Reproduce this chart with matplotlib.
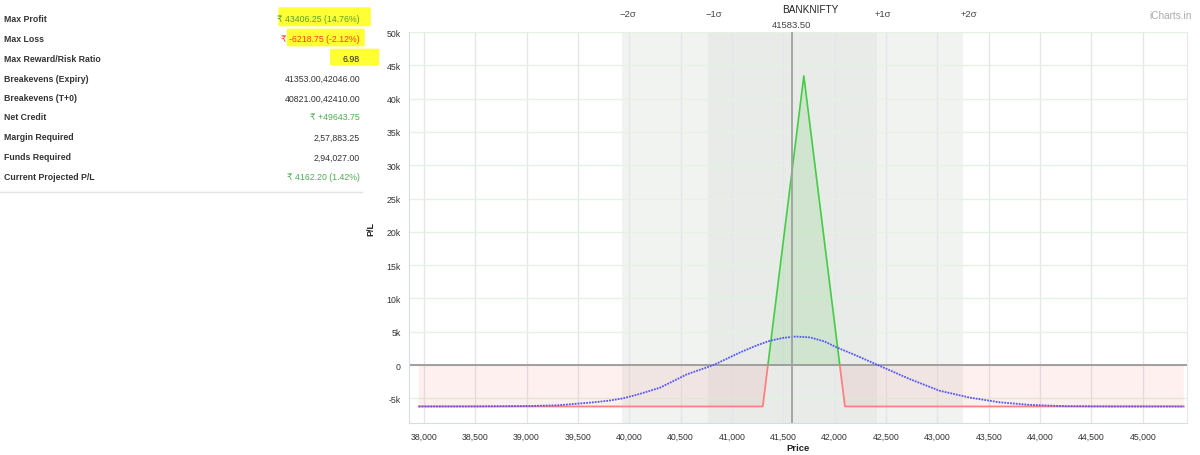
import numpy as np
import matplotlib
matplotlib.use("Agg")
import matplotlib.pyplot as plt
from matplotlib.patches import Rectangle, FancyBboxPatch
import matplotlib.transforms as mtransforms

plt.rcParams['font.family'] = ['Liberation Sans', 'DejaVu Sans']

# summary table on the left
row_labels = ["Max Profit", "Max Loss", "Max Reward/Risk Ratio", "Breakevens (Expiry)",
              "Breakevens (T+0)", "Net Credit", "Margin Required", "Funds Required",
              "Current Projected P/L"]
row_values = ["₹ 43406.25 (14.76%)", "₹ -6218.75 (-2.12%)", "6.98", "41353.00,42046.00",
              "40821.00,42410.00", "₹ +49643.75", "2,57,883.25", "2,94,027.00",
              "₹ 4162.20 (1.42%)"]
row_colors = ["#5aa02c", "#ff3b1f", "#222222", "#333333", "#333333",
              "#4caf50", "#333333", "#333333", "#4caf50"]

# payoff at expiry
expiry_price = [37950, 41300, 41700, 42100, 45400]
expiry_pnl = [-6218.75, -6218.75, 43406.25, -6218.75, -6218.75]

# T+0 curve
t0_price = [37950, 38500, 39000, 39300, 39650, 39800, 39940, 40100, 40300, 40560, 40690,
            40820, 41080, 41250, 41370, 41500, 41620, 41760, 41900, 42020, 42200, 42420, 42730,
            43020, 43320, 43610, 43900, 44250, 44700, 45400]
t0_pnl = [-6218, -6210, -6160, -6050, -5600, -5350, -5000, -4350, -3400, -1400, -700,
          0, 1900, 3000, 3650, 4080, 4280, 4150, 3550, 2650, 1500, 0, -2100,
          -3850, -4900, -5600, -5980, -6180, -6215, -6218]

spot = 41583.50
sigma_edges = [39930, 40765, 42410, 43245]
sigma_labels = ["\u22122\u03c3", "\u22121\u03c3", "+1\u03c3", "+2\u03c3"]

x_ticks = np.arange(38000, 45001, 500)
y_ticks = np.arange(-5000, 50001, 5000)

fig = plt.figure(figsize=(12, 4.56), dpi=100)
ax = fig.add_axes([0.3408, 0.0702, 0.6483, 0.8574])

# sigma bands
ax.axvspan(sigma_edges[0], sigma_edges[3], color="#f1f3f1", zorder=0, lw=0)
ax.axvspan(sigma_edges[1], sigma_edges[2], color="#e8ebe8", zorder=0.1, lw=0)

ep = np.array(expiry_price)
epl = np.array(expiry_pnl)
ax.fill_between(ep, epl, 0, where=epl >= 0, interpolate=True, color="#2fb82f", alpha=0.13, lw=0, zorder=1)
ax.fill_between(ep, epl, 0, where=epl <= 0, interpolate=True, color="#ff3030", alpha=0.07, lw=0, zorder=1)

ax.axhline(0, color="#999999", lw=1.3, zorder=2)

g, = ax.plot(ep, epl, color="#44cc44", lw=1.2, zorder=3)
r, = ax.plot(ep, epl, color="#ff8080", lw=1.3, zorder=3)
g.set_clip_path(Rectangle((37000, 0), 9000, 60000, transform=ax.transData))
r.set_clip_path(Rectangle((37000, -20000), 9000, 20000, transform=ax.transData))

ax.plot(t0_price, t0_pnl, color="#5555ff", lw=1.3, ls=(0, (1, 0.6)), zorder=4)

ax.axvline(spot, color="#a0a0a0", lw=1.3, zorder=5)

ax.set_xlim(37855, 45430)
ax.set_ylim(-8700, 50000)
ax.set_xticks(x_ticks)
ax.set_xticklabels([f"{v:,}" for v in x_ticks])
ax.set_yticks(y_ticks)
ax.set_yticklabels(["0" if v == 0 else f"{v // 1000}k" for v in y_ticks])
ax.tick_params(length=0, labelsize=6.3, colors="#333333", pad=6)
ax.set_axisbelow(True)
ax.grid(axis="x", color="#e4e6ea", lw=1)
ax.grid(axis="y", color="#e2f3e2", lw=1)
ax.spines["top"].set_visible(False)
ax.spines["left"].set_color("#d5dbe8")
ax.spines["right"].set_color("#e3e8f2")
ax.spines["bottom"].set_color("#d5dbe8")
ax.set_xlabel("Price", fontsize=6.8, fontweight="bold", color="#222222", labelpad=2)
ax.set_ylabel("P/L", fontsize=6.5, fontweight="bold", color="#222222", labelpad=8)

trans = mtransforms.blended_transform_factory(ax.transData, ax.transAxes)
ax.text(spot, 1.008, f"{spot:.2f}", transform=trans, ha="center", va="bottom", fontsize=6.8, color="#444444")
for xe, lab in zip(sigma_edges, sigma_labels):
    ax.text(xe + 60, 1.035, lab, transform=trans, ha="center", va="bottom", fontsize=6.8, color="#444444")

fig.text(0.675, 0.99, "BANKNIFTY", ha="center", va="top", fontsize=7.2, color="#222222")
fig.text(0.993, 0.975, "iCharts.in", ha="right", va="top", fontsize=7.2, color="#aaaaaa")

# highlighter marks
hl = [(0.234, 0.942, 0.073, 0.038), (0.241, 0.898, 0.061, 0.035), (0.277, 0.856, 0.037, 0.033)]
for x0, y0, w, h in hl:
    fig.patches.append(FancyBboxPatch((x0, y0), w, h, boxstyle="round,pad=0.002",
                                      transform=fig.transFigure, color="#ffff33", lw=0, zorder=0))

row_y = [19, 39, 59, 79, 99, 118, 138, 158, 178]
for yy, lab, val, col in zip(row_y, row_labels, row_values, row_colors):
    fig.text(0.003, 1 - yy / 456, lab, ha="left", va="center", fontsize=6.3, fontweight="bold", color="#333333")
    fig.text(0.3, 1 - yy / 456, val, ha="right", va="center", fontsize=6.3, color=col)
fig.add_artist(plt.Line2D([0, 0.302], [1 - 193 / 456] * 2, color="#e5e5e5", lw=1, transform=fig.transFigure))

fig.savefig("out.png", dpi=100)
